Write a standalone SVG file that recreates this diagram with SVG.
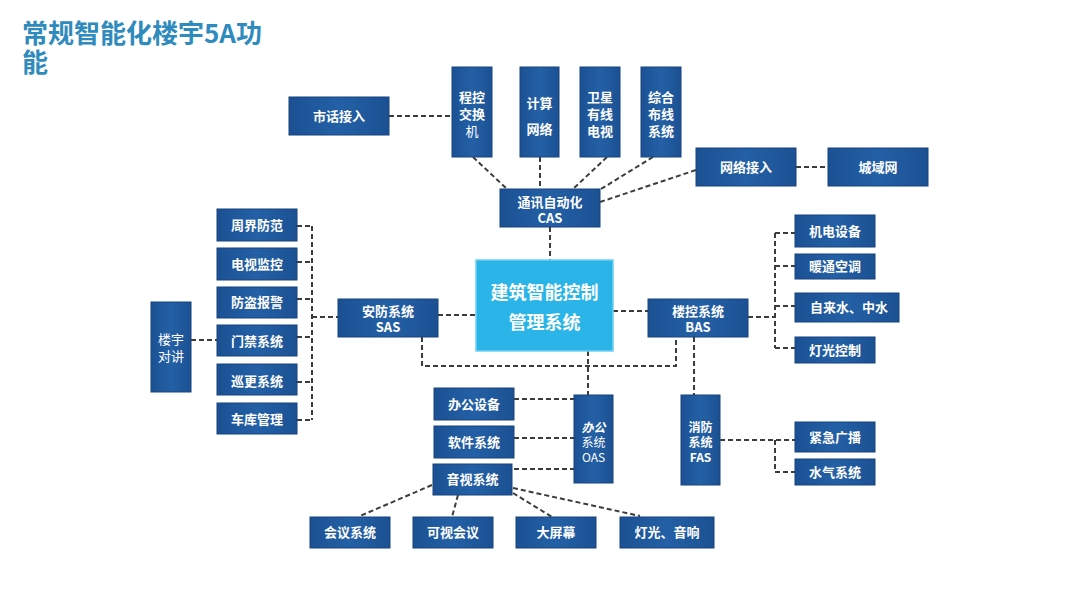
<svg xmlns="http://www.w3.org/2000/svg" width="1080" height="607" viewBox="0 0 1080 607">
<defs>
<linearGradient id="g" x1="0" y1="0" x2="1" y2="0">
<stop offset="0" stop-color="#1b5193"/>
<stop offset="0.5" stop-color="#2460a6"/>
<stop offset="1" stop-color="#1b5193"/>
</linearGradient>
<style>
.b{fill:url(#g);stroke:#17457f;stroke-width:1}
.c{fill:#2bb4e8;stroke:#6fd0f2;stroke-width:1.5}
.t{font-family:"Noto Sans CJK SC","Noto Sans",sans-serif;font-size:13px;font-weight:bold;fill:#fff;text-anchor:middle}
.l{font-family:"Noto Sans CJK SC","Noto Sans",sans-serif;font-size:13px;fill:#fff;text-anchor:middle}
.s{font-size:12px}
.ct{font-family:"Noto Sans CJK SC",sans-serif;font-size:18px;font-weight:bold;fill:#fff;text-anchor:middle}
.d{fill:none;stroke:#3c3c3c;stroke-width:2;stroke-dasharray:5 3}
.title{font-family:"Noto Sans CJK SC","Noto Sans",sans-serif;font-size:26px;font-weight:bold;fill:#2f8bbd}
</style>
</defs>
<rect width="1080" height="607" fill="#fff"/>
<text class="title" x="22" y="43">常规智能化楼宇5A功</text>
<text class="title" x="22" y="72">能</text>

<g id="connectors">
<path class="d" d="M389 116H452"/>
<path class="d" d="M473 157L507 189"/>
<path class="d" d="M540 157V189"/>
<path class="d" d="M607 157L573 189"/>
<path class="d" d="M653 157L601 189"/>
<path class="d" d="M600 202L696 170"/>
<path class="d" d="M796 167H828"/>
<path class="d" d="M550 227V260"/>
<path class="d" d="M297 226H312M297 262H312M297 299H312M297 337H312M297 382H312M297 420H312M312 226V420M312 317H338"/>
<path class="d" d="M191 340H217"/>
<path class="d" d="M438 315H476"/>
<path class="d" d="M422 337V366H676V337"/>
<path class="d" d="M588 351V395"/>
<path class="d" d="M613 311H648"/>
<path class="d" d="M694 337V395"/>
<path class="d" d="M748 317H775M775 233V348M775 233H795M775 266H795M775 306H795M775 348H795"/>
<path class="d" d="M514 399H574M514 438H574M514 469H574"/>
<path class="d" d="M720 440H795M775 440V472H795"/>
<path class="d" d="M432 485L360 516M458 495L452 517M513 493L552 517M513 488L640 516"/>
</g>

<g id="n-shihua"><rect class="b" x="289" y="97" width="100" height="38"/><text class="t" x="339" y="121">市话接入</text></g>
<g id="n-chengkong"><rect class="b" x="452" y="67" width="40" height="90"/><text class="t" x="472" y="102">程控</text><text class="t" x="472" y="119">交换</text><text class="l" x="472" y="136">机</text></g>
<g id="n-jisuan"><rect class="b" x="520" y="67" width="39" height="90"/><text class="t" x="539.5" y="108">计算</text><text class="t" x="539.5" y="134">网络</text></g>
<g id="n-weixing"><rect class="b" x="580" y="67" width="40" height="90"/><text class="t" x="600" y="102">卫星</text><text class="t" x="600" y="119">有线</text><text class="t" x="600" y="136">电视</text></g>
<g id="n-zonghe"><rect class="b" x="641" y="67" width="40" height="90"/><text class="t" x="661" y="102">综合</text><text class="t" x="661" y="119">布线</text><text class="t" x="661" y="136">系统</text></g>
<g id="n-wangluo"><rect class="b" x="696" y="148" width="100" height="38"/><text class="t" x="746" y="172">网络接入</text></g>
<g id="n-chengyu"><rect class="b" x="828" y="148" width="100" height="38"/><text class="t" x="878" y="172">城域网</text></g>
<g id="n-cas"><rect class="b" x="500" y="189" width="100" height="38"/><text class="t" x="550" y="207">通讯自动化</text><text class="t" x="550" y="223">CAS</text></g>

<g id="n-zhoujie"><rect class="b" x="217" y="209" width="80" height="32"/><text class="t" x="257" y="230">周界防范</text></g>
<g id="n-dianshi"><rect class="b" x="217" y="248" width="80" height="32"/><text class="t" x="257" y="269">电视监控</text></g>
<g id="n-fangdao"><rect class="b" x="217" y="287" width="80" height="31"/><text class="t" x="257" y="307">防盗报警</text></g>
<g id="n-menjin"><rect class="b" x="217" y="325" width="80" height="31"/><text class="t" x="257" y="346">门禁系统</text></g>
<g id="n-xungeng"><rect class="b" x="217" y="364" width="80" height="31"/><text class="t" x="257" y="386">巡更系统</text></g>
<g id="n-cheku"><rect class="b" x="217" y="403" width="80" height="31"/><text class="t" x="257" y="424">车库管理</text></g>
<g id="n-louyu"><rect class="b" x="151" y="302" width="40" height="90"/><text class="l" x="171" y="344">楼宇</text><text class="l" x="171" y="361">对讲</text></g>
<g id="n-sas"><rect class="b" x="338" y="299" width="100" height="38"/><text class="t" x="388" y="316">安防系统</text><text class="t" x="388" y="332">SAS</text></g>

<g id="n-center"><rect class="c" x="476" y="260" width="137" height="91"/><text class="ct" x="544.5" y="299">建筑智能控制</text><text class="ct" x="544.5" y="329">管理系统</text></g>

<g id="n-bas"><rect class="b" x="648" y="299" width="100" height="38"/><text class="t" x="698" y="316">楼控系统</text><text class="t" x="698" y="332">BAS</text></g>
<g id="n-jidian"><rect class="b" x="795" y="215" width="80" height="32"/><text class="t" x="835" y="236">机电设备</text></g>
<g id="n-nuantong"><rect class="b" x="795" y="254" width="80" height="25"/><text class="t" x="835" y="271">暖通空调</text></g>
<g id="n-zilaishui"><rect class="b" x="795" y="293" width="104" height="29"/><text class="t" x="849" y="312">自来水、中水</text></g>
<g id="n-dengguang"><rect class="b" x="795" y="337" width="80" height="26"/><text class="t" x="835" y="355">灯光控制</text></g>

<g id="n-bangong"><rect class="b" x="434" y="388" width="80" height="32"/><text class="t" x="474" y="409">办公设备</text></g>
<g id="n-ruanjian"><rect class="b" x="434" y="426" width="80" height="32"/><text class="t" x="474" y="447">软件系统</text></g>
<g id="n-yinshi"><rect class="b" x="433" y="464" width="79" height="31"/><text class="t" x="472.5" y="484">音视系统</text></g>
<g id="n-oas"><rect class="b" x="574" y="395" width="39" height="88"/><text class="t s" x="593.5" y="432" font-style="italic">办公</text><text class="l s" x="593.5" y="447">系统</text><text class="l s" x="593.5" y="462">OAS</text></g>
<g id="n-fas"><rect class="b" x="681" y="395" width="39" height="90"/><text class="t s" x="700.5" y="432">消防</text><text class="t s" x="700.5" y="447">系统</text><text class="t s" x="700.5" y="462">FAS</text></g>
<g id="n-jinji"><rect class="b" x="795" y="422" width="80" height="30"/><text class="t" x="835" y="442">紧急广播</text></g>
<g id="n-shuiqi"><rect class="b" x="795" y="459" width="80" height="26"/><text class="t" x="835" y="477">水气系统</text></g>

<g id="n-huiyi"><rect class="b" x="310" y="517" width="80" height="31"/><text class="t" x="350" y="537">会议系统</text></g>
<g id="n-keshi"><rect class="b" x="413" y="517" width="80" height="31"/><text class="t" x="453" y="537">可视会议</text></g>
<g id="n-daping"><rect class="b" x="516" y="517" width="80" height="31"/><text class="t" x="556" y="537">大屏幕</text></g>
<g id="n-yinxiang"><rect class="b" x="620" y="517" width="94" height="31"/><text class="t" x="667" y="537">灯光、音响</text></g>
</svg>
